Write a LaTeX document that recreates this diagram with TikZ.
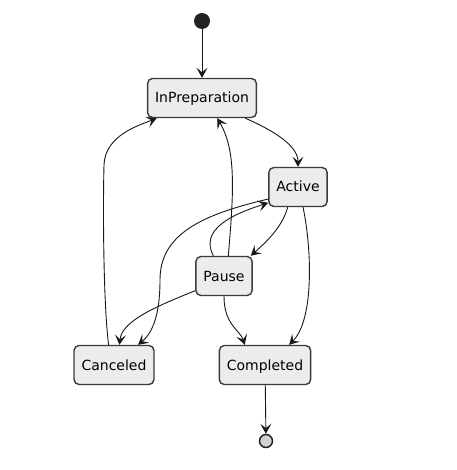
\documentclass[tikz,border=0pt]{standalone}
\usepackage{fontspec}
\usetikzlibrary{arrows.meta}
\newfontfamily\statefont{DejaVu Sans}
\definecolor{cFill}{HTML}{ECECEC}
\definecolor{cLine}{HTML}{181818}
\definecolor{cDot}{HTML}{222222}

\begin{document}
\begin{tikzpicture}[
  x=1pt,y=-1pt,
  font=\statefont\fontsize{14}{16}\selectfont,
  state/.style={draw=cLine!85,fill=cFill,rounded corners=5pt,minimum height=39pt,
                inner xsep=7.5pt,line width=1.4pt,text height=12pt,text depth=2pt},
  startdot/.style={circle,fill=cDot,minimum size=16pt,inner sep=0pt},
  enddot/.style={circle,draw=cDot,fill=black!18,minimum size=13pt,inner sep=0pt,line width=1.5pt},
  trans/.style={-{Stealth[length=10pt,width=11pt,inset=4.5pt]},line width=0.9pt,cLine}
]
\useasboundingbox (0,0) rectangle (456,470);
\node[startdot] (init) at (202,21) {};
\node[state] (prep) at (202,98) {InPreparation};
\node[state] (active) at (298,187) {Active};
\node[state] (pause) at (224,276) {Pause};
\node[state] (cancel) at (114,365) {Canceled};
\node[state] (done) at (265,365) {Completed};
\node[enddot] (stop) at (266,441) {};

\draw[trans] (init) -- (prep);
\draw[trans] (prep.-25) .. controls (272,130) and (298,145) .. (active.north);
\draw[trans] (active.-117) .. controls (282,228) and (265,243) .. (pause.37);
\draw[trans] (active.-76) .. controls (312,250) and (314,320) .. (done.40);
\draw[trans] (active.-158) .. controls (200,215) and (160,235) .. (160,280)
     .. controls (160,320) and (150,335) .. (cancel.40);
\draw[trans] (pause.118) .. controls (200,230) and (230,215) .. (active.-152);
\draw[trans] (pause.78) .. controls (234,190) and (236,150) .. (prep.-53);
\draw[trans] (pause.-153) .. controls (160,305) and (122,320) .. (cancel.75);
\draw[trans] (pause.south) .. controls (224,325) and (240,330) .. (done.135);
\draw[trans] (cancel.105) .. controls (103,300) and (103,200) .. (104,165)
     .. controls (105,135) and (140,125) .. (prep.-156);
\draw[trans] (done) -- (stop);
\end{tikzpicture}
\end{document}
